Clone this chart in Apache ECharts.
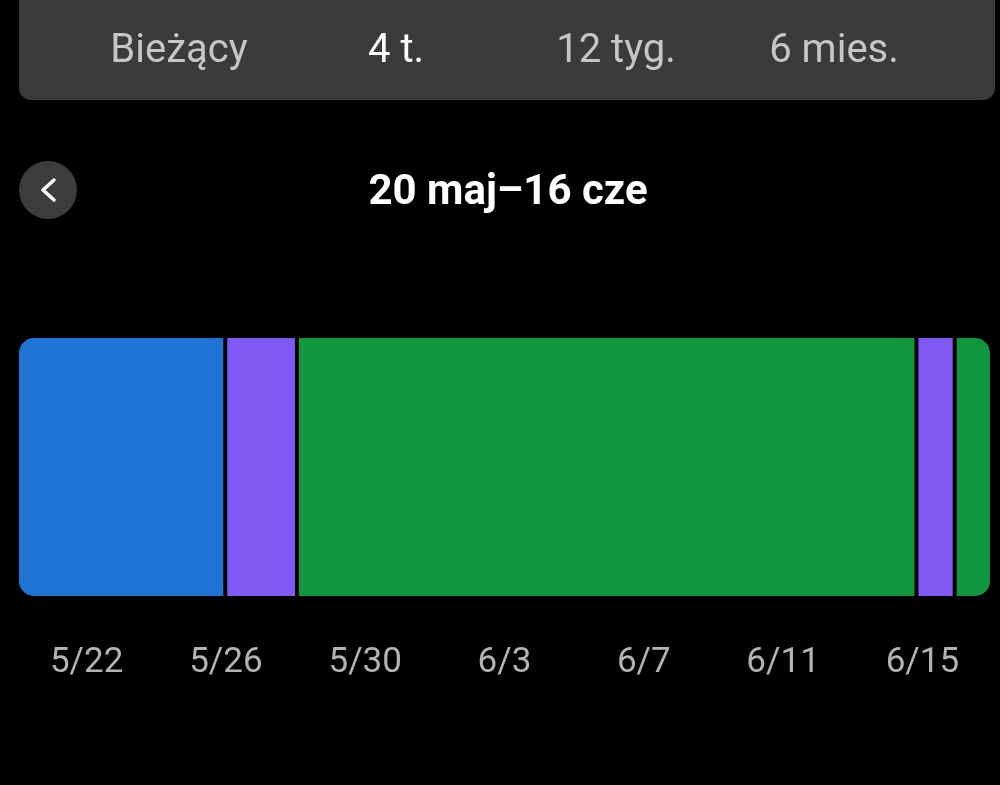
<!DOCTYPE html>
<html>
<head>
<meta charset="utf-8">
<script src="https://cdn.jsdelivr.net/npm/echarts@6/dist/echarts.min.js"></script>
<style>
html,body{margin:0;padding:0;background:#000;}
#chart{width:1000px;height:785px;}
</style>
</head>
<body>
<div id="chart"></div>
<script>
// ---- data ----
const tabLabels = ['Bieżący', '4 t.', '12 tyg.', '6 mies.'];
const selectedTab = '4 t.';
const rangeTitle = '20 maj–16 cze';
const totalDays = 28;
const segmentTypes = ['A', 'B', 'C', 'B', 'C'];
const segmentDays = [5.98, 2.06, 17.79, 1.10, 1.07];
const tickDays = [2, 6, 10, 14, 18, 22, 26];
const tickLabels = ['5/22', '5/26', '5/30', '6/3', '6/7', '6/11', '6/15'];

// ---- styles ----
const typeColors = { A: '#1f74d3', B: '#8058f3', C: '#11963f' };
const tabCenters = [179, 396, 616, 834];
const font = 'Roboto, "Noto Sans", sans-serif';

const chart = echarts.init(document.getElementById('chart'), null, { renderer: 'canvas' });

const series = segmentDays.map((v, i) => {
  let r = 0;
  if (i === 0) r = [16, 0, 0, 16];
  else if (i === segmentDays.length - 1) r = [0, 16, 16, 0];
  return {
    type: 'bar',
    stack: 'total',
    barWidth: 262,
    data: [v],
    itemStyle: {
      color: typeColors[segmentTypes[i]],
      borderColor: '#000',
      borderWidth: 2,
      borderRadius: r
    },
    emphasis: { disabled: true },
    silent: true
  };
});

const graphics = [
  { type: 'rect', shape: { x: 19, y: -20, width: 976, height: 120, r: 12 }, style: { fill: '#3b3b3b' } },
  { type: 'circle', shape: { cx: 48, cy: 190, r: 29 }, style: { fill: '#3d3d3d' } },
  { type: 'polyline', shape: { points: [[54, 180], [43, 190], [54, 200]] },
    style: { stroke: '#ffffff', lineWidth: 3.5, fill: null, lineCap: 'round', lineJoin: 'round' } },
  { type: 'text', x: 508, y: 193,
    style: { text: rangeTitle, fill: '#ffffff', font: 'bold 42px ' + font, align: 'center', verticalAlign: 'middle' } }
];
tabLabels.forEach((t, i) => {
  graphics.push({
    type: 'text', x: tabCenters[i], y: 52,
    style: { text: t, fill: t === selectedTab ? '#ffffff' : '#c6c6c6', font: '40px ' + font,
      align: 'center', verticalAlign: 'middle' }
  });
});

chart.setOption({
  backgroundColor: '#000',
  animation: false,
  grid: { left: 17, right: 8, top: 336, height: 262 },
  xAxis: {
    type: 'value',
    min: 0,
    max: totalDays,
    interval: 2,
    axisLine: { show: false },
    axisTick: { show: false },
    splitLine: { show: false },
    axisLabel: {
      margin: 48,
      color: '#b3b3b3',
      fontSize: 35,
      fontFamily: font,
      formatter: function (v) {
        const k = tickDays.indexOf(v);
        return k >= 0 ? tickLabels[k] : '';
      }
    }
  },
  yAxis: {
    type: 'category',
    data: ['okres'],
    show: false
  },
  series: series,
  graphic: graphics
});
</script>
</body>
</html>
